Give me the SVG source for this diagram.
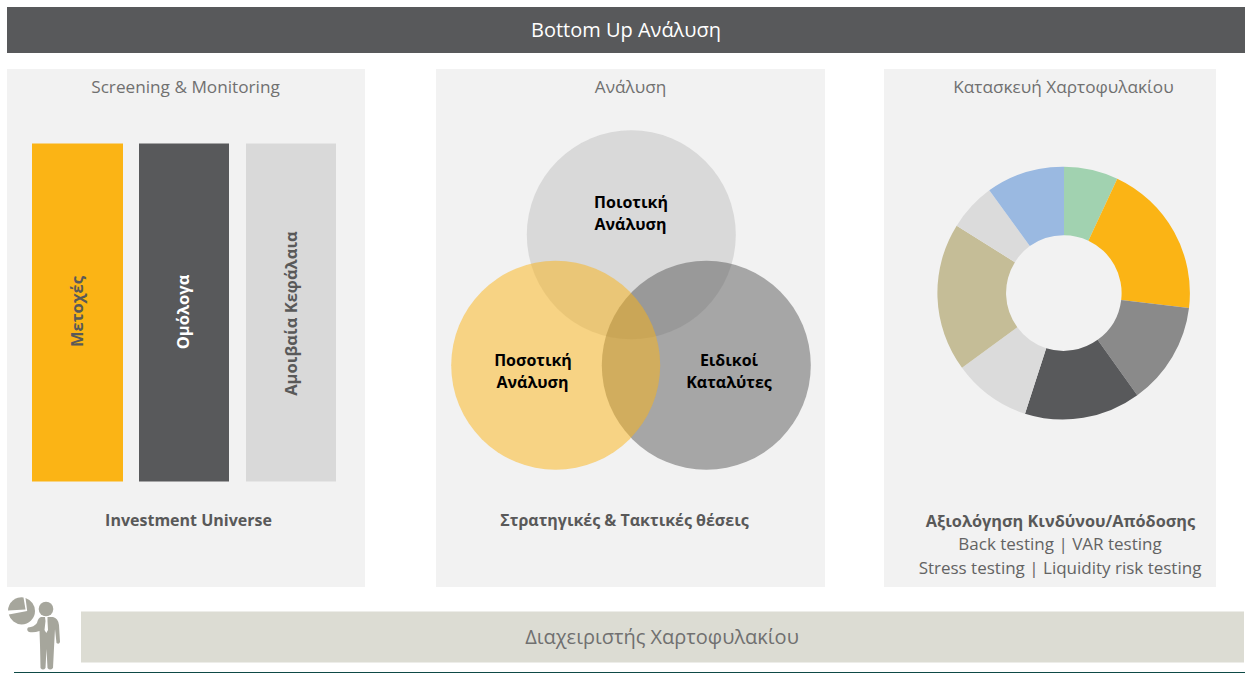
<svg xmlns="http://www.w3.org/2000/svg" width="1245" height="673" viewBox="0 0 1245 673">
<style>
text{font-family:"Open Sans","Noto Sans","DejaVu Sans",sans-serif;text-anchor:middle;fill:#595959}
.h{font-size:17.2px;fill:#707070}
.b{font-size:16px;font-weight:700;fill:#595959}
.r{font-size:16.5px;font-weight:700;fill:#595959}
.v{font-size:16px;font-weight:700;fill:#000}
.s{font-size:17px;fill:#636363}
.p{fill:#f2f2f2}
.i{fill:#a6a69c}
</style>
<rect width="1245" height="673" fill="#fff"/>
<g id="title"><rect x="7" y="7" width="1238" height="46" fill="#58595b"/><text x="626" y="37" font-size="20" style="fill:#fff">Bottom Up Ανάλυση</text></g>
<g id="panel-screening"><rect class="p" x="7" y="69" width="358" height="518"/><text class="h" x="185.500" y="93">Screening &amp; Monitoring</text>
<g id="bar-equities"><rect x="32" y="143.500" width="91" height="338" fill="#fbb415"/><text class="r" transform="translate(83,311.500) rotate(-90)">Μετοχές</text></g>
<g id="bar-bonds"><rect x="139" y="143.500" width="90" height="338" fill="#58595b"/><text class="r" transform="translate(189,312) rotate(-90)" style="fill:#fff">Ομόλογα</text></g>
<g id="bar-funds"><rect x="246" y="143.500" width="90" height="338" fill="#d9d9d9"/><text class="r" transform="translate(297,313.500) rotate(-90)">Αμοιβαία Κεφάλαια</text></g>
<text class="b" x="188.500" y="526">Investment Universe</text></g>
<g id="panel-analysis"><rect class="p" x="436" y="69" width="389" height="518"/><text class="h" x="630.500" y="93">Ανάλυση</text>
<g id="circle-qual"><circle cx="631.300" cy="234.800" r="104.500" fill="#bfbfbf" fill-opacity=".5"/></g>
<g id="circle-cat"><circle cx="706.300" cy="365.300" r="104.500" fill="#595959" fill-opacity=".5"/></g>
<g id="circle-quant"><circle cx="555.700" cy="365.300" r="104.500" fill="#fbb415" fill-opacity=".5"/></g>
<text class="v" x="631" y="208">Ποιοτική</text><text class="v" x="630.500" y="230">Ανάλυση</text>
<text class="v" x="533" y="366">Ποσοτική</text><text class="v" x="532.500" y="388">Ανάλυση</text>
<text class="v" x="729" y="366">Ειδικοί</text><text class="v" x="729" y="388">Καταλύτες</text>
<text class="b" x="624.500" y="526">Στρατηγικές &amp; Τακτικές θέσεις</text></g>
<g id="panel-portfolio"><rect class="p" x="884" y="69" width="332" height="518"/><text class="h" x="1063.500" y="93">Κατασκευή Χαρτοφυλακίου</text>
<g id="donut" transform="translate(0,0.300)">
<path fill="#a1d2b0" d="M1064 166.400A126.300 126.300 0 0 1 1117.300 178.400L1088.400 240.400A57.800 57.800 0 0 0 1064 234.900Z"/>
<path fill="#fbb415" d="M1117.300 178.400A126.300 126.300 0 0 1 1189 307.700L1121.200 299.600A57.800 57.800 0 0 0 1088.400 240.400Z"/>
<path fill="#8a8a8a" d="M1189 307.700A126.300 126.300 0 0 1 1137.300 395L1097.600 339.500A57.800 57.800 0 0 0 1121.200 299.600Z"/>
<path fill="#58595b" d="M1137.300 395A126.300 126.300 0 0 1 1025 413.400L1046.200 347.900A57.800 57.800 0 0 0 1097.600 339.500Z"/>
<path fill="#dbdbdb" d="M1025 413.400A126.300 126.300 0 0 1 962 367.400L1017.300 326.900A57.800 57.800 0 0 0 1046.200 347.900Z"/>
<path fill="#c5bd97" d="M962 367.400A126.300 126.300 0 0 1 956.700 225.400L1014.900 261.900A57.800 57.800 0 0 0 1017.300 326.900Z"/>
<path fill="#dbdbdb" d="M956.700 225.400A126.300 126.300 0 0 1 989.300 190L1029.800 245.700A57.800 57.800 0 0 0 1014.900 261.900Z"/>
<path fill="#9ab9e1" d="M989.300 190A126.300 126.300 0 0 1 1064 166.400L1064 234.900A57.800 57.800 0 0 0 1029.800 245.700Z"/>
</g>
<text class="b" style="font-size:16.300px" x="1060.500" y="527">Αξιολόγηση Κινδύνου/Απόδοσης</text>
<text class="s" x="1060" y="550">Back testing | VAR testing</text>
<text class="s" x="1060" y="574">Stress testing | Liquidity risk testing</text></g>
<g id="manager"><rect x="81" y="611.500" width="1163" height="51" fill="#dcdcd3"/><text x="662" y="644" font-size="20" style="fill:#707070">Διαχειριστής Χαρτοφυλακίου</text>
<g id="manager-icon">
<path class="i" d="M23.500 597.500A13.500 13.500 0 0 0 8 610.500L25.500 609.500Z"/>
<path class="i" d="M25.500 598A13.500 13.500 0 0 1 35 611A13.500 13.500 0 0 1 21.500 624.500A13.500 13.500 0 0 1 8.800 614.500L27.200 611Z"/>
<circle class="i" cx="46" cy="609" r="7.300"/>
<path class="i" d="M41 617L53 617Q58 618 59 625L60 642Q59 645 56.500 643L55 629L54 648L53 668Q50 671 47.500 668L46.500 649L45.500 668Q43 671 40.500 668L40 645L39.500 631Q34 633 29 632Q26 630 28 627.500Q34 627 37 623Q38 618 41 617Z"/>
<path d="M45 617L47.500 617L47.500 621L48 630L46.300 633L44.500 630L45.500 621Z" fill="#fff"/>
</g></g>
<rect x="14" y="672" width="1231" height="1" fill="#0e4a46"/>
</svg>
